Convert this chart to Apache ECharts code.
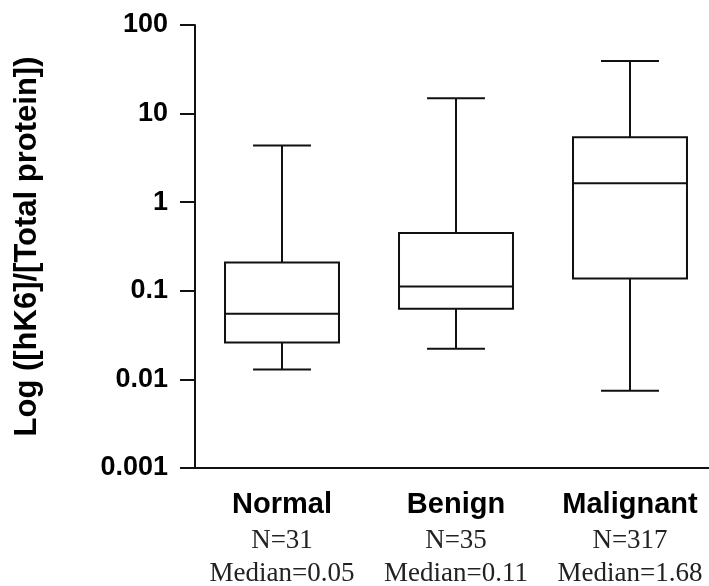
<!DOCTYPE html>
<html>
<head>
<meta charset="utf-8">
<script src="https://cdn.jsdelivr.net/npm/echarts@6/dist/echarts.min.js"></script>
<style>
  html, body { margin: 0; padding: 0; background: #fff; }
  #chart { width: 709px; height: 586px; }
</style>
</head>
<body>
<div id="chart"></div>
<script>
// groups and their notes under the axis
var groups = ['Normal', 'Benign', 'Malignant'];
var counts = ['N=31', 'N=35', 'N=317'];
var medianText = ['Median=0.05', 'Median=0.11', 'Median=1.68'];

// box values
var whiskerLow = [0.0129, 0.0222, 0.00745];
var q1 = [0.0261, 0.0626, 0.138];
var median = [0.055, 0.112, 1.64];
var q3 = [0.208, 0.448, 5.41];
var whiskerHigh = [4.36, 14.9, 39.3];

var yTickLabels = ['0.001', '0.01', '0.1', '1', '10', '100'];

var boxData = groups.map(function (g, i) {
    return [i, whiskerLow[i], q1[i], median[i], q3[i], whiskerHigh[i]];
});

var lineStyle = { stroke: '#111', lineWidth: 2, fill: null };

function renderBox(params, api) {
    var idx = api.value(0);
    var band = api.size([1, 1], [idx, 1])[0];
    var bw = band * 0.655;
    var cw = band * 0.333;
    var low = api.coord([idx, api.value(1)]);
    var p1 = api.coord([idx, api.value(2)]);
    var pm = api.coord([idx, api.value(3)]);
    var p3 = api.coord([idx, api.value(4)]);
    var high = api.coord([idx, api.value(5)]);
    var cx = low[0];
    function line(x1, y1, x2, y2) {
        return { type: 'line', shape: { x1: x1, y1: y1, x2: x2, y2: y2 }, style: lineStyle };
    }
    return {
        type: 'group',
        children: [
            line(cx, high[1], cx, p3[1]),
            line(cx - cw / 2, high[1], cx + cw / 2, high[1]),
            line(cx, p1[1], cx, low[1]),
            line(cx - cw / 2, low[1], cx + cw / 2, low[1]),
            { type: 'rect', shape: { x: cx - bw / 2, y: p3[1], width: bw, height: p1[1] - p3[1] }, style: lineStyle },
            line(cx - bw / 2, pm[1], cx + bw / 2, pm[1])
        ]
    };
}

var chart = echarts.init(document.getElementById('chart'));

var option = {
    animation: false,
    backgroundColor: '#fff',
    grid: { left: 195, top: 25, bottom: 118, width: 522, containLabel: false, outerBoundsMode: 'none' },
    xAxis: {
        type: 'category',
        data: groups,
        axisLine: { lineStyle: { color: '#111', width: 2 } },
        axisTick: { alignWithLabel: true, length: 14, lineStyle: { color: '#111', width: 2 } },
        axisLabel: {
            interval: 0,
            margin: 18,
            formatter: function (v, i) {
                return '{a|' + v + '}\n{b|' + counts[i] + '}\n{b|' + medianText[i] + '}';
            },
            rich: {
                a: { fontFamily: 'Liberation Sans, Arial', fontWeight: 'bold', fontSize: 29, color: '#000', lineHeight: 38 },
                b: { fontFamily: 'Liberation Serif, Times New Roman', fontSize: 27, color: '#222', lineHeight: 33 }
            }
        },
        splitLine: { show: false }
    },
    yAxis: {
        type: 'log',
        logBase: 10,
        min: 0.001,
        max: 100,
        name: 'Log ([hK6]/[Total protein])',
        nameLocation: 'middle',
        nameGap: 152,
        nameTextStyle: { fontFamily: 'Liberation Sans, Arial', fontWeight: 'bold', fontSize: 31, color: '#000' },
        axisLine: { show: true, lineStyle: { color: '#111', width: 2 } },
        axisTick: { show: true, length: 15, lineStyle: { color: '#111', width: 2 } },
        axisLabel: {
            margin: 27,
            fontFamily: 'Liberation Sans, Arial',
            fontWeight: 'bold',
            fontSize: 27,
            color: '#000',
            formatter: function (v) {
                return yTickLabels[Math.round(Math.log10(v)) + 3];
            }
        },
        splitLine: { show: false },
        minorTick: { show: false }
    },
    series: [{
        type: 'custom',
        renderItem: renderBox,
        encode: { x: 0, y: [1, 2, 3, 4, 5] },
        data: boxData
    }]
};

chart.setOption(option);
</script>
</body>
</html>
